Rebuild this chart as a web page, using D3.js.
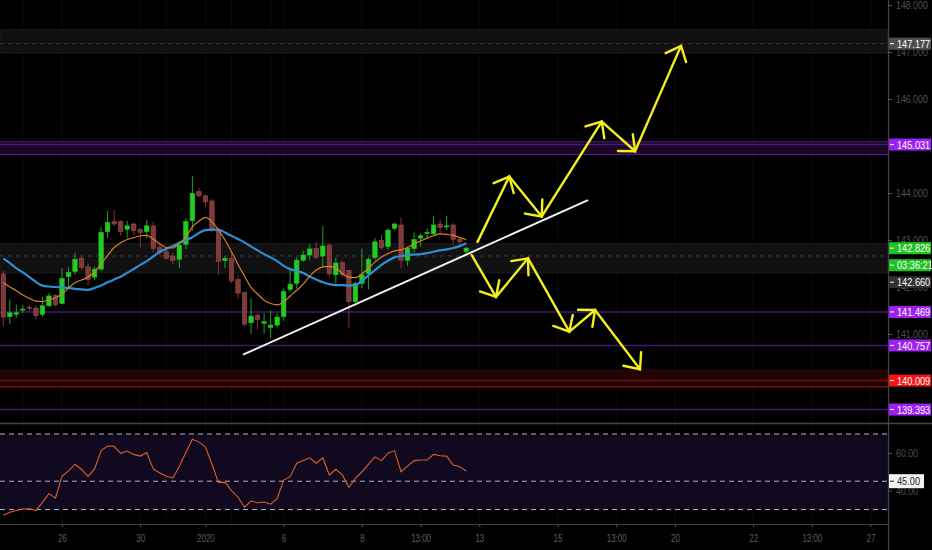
<!DOCTYPE html>
<html>
<head>
<meta charset="utf-8">
<script src="https://cdn.jsdelivr.net/npm/d3@7"></script>
<style>
html, body { margin: 0; padding: 0; background: #000; }
svg { display: block; font-family: "Liberation Sans", Arial, sans-serif; }
</style>
</head>
<body>
<svg id="chart" width="932" height="550"></svg>
<script>
// 4h candles, index 0 = first visible bar
var candleOpen  = [142.28,141.37,141.42,141.52,141.57,141.55,141.42,141.60,141.82,141.65,142.22,142.33,142.61,142.43,142.21,142.38,143.18,143.39,143.39,143.23,143.34,143.23,143.18,143.30,142.84,142.75,142.66,142.59,142.91,143.41,144.03,143.94,143.83,143.23,142.56,142.61,142.16,141.88,141.24,141.40,141.23,141.14,141.19,141.37,141.95,142.08,142.57,142.68,142.82,142.66,142.89,142.26,142.52,142.35,141.69,142.08,142.29,142.63,142.99,142.86,143.25,143.32,142.57,142.82,143.04,143.14,143.13,143.34,143.28,143.32,143.01,142.76];
var candleHigh  = [142.34,141.74,141.62,141.62,141.62,141.62,141.79,141.87,141.85,142.40,142.42,142.73,142.66,142.50,142.43,143.27,143.62,143.64,143.42,143.41,143.37,143.25,143.43,143.39,142.93,142.80,142.72,142.96,143.46,144.36,144.10,143.96,143.87,143.25,142.66,142.72,142.26,141.90,141.76,141.44,141.44,141.50,141.45,141.97,142.38,142.63,142.77,142.91,142.96,143.30,142.93,142.63,142.56,142.36,142.11,142.82,142.64,143.04,143.11,143.25,143.37,143.48,142.86,143.16,143.14,143.25,143.51,143.43,143.51,143.36,143.04,142.86];
var candleLow   = [141.17,141.21,141.34,141.45,141.47,141.31,141.37,141.58,141.58,141.64,141.97,142.26,142.36,142.04,142.15,142.36,143.04,143.30,143.09,143.04,143.11,142.84,143.04,142.75,142.68,142.57,142.49,142.40,142.80,143.20,143.91,143.70,143.18,142.26,142.40,142.09,141.76,141.17,141.00,141.10,141.01,140.91,141.14,141.28,141.90,141.97,142.54,142.56,142.60,142.43,142.22,142.07,142.21,141.12,141.65,141.97,141.95,142.57,142.79,142.79,143.21,142.40,142.45,142.72,142.86,143.04,143.11,143.13,143.21,142.89,142.89,142.70];
var candleClose = [141.36,141.45,141.45,141.53,141.56,141.39,141.60,141.81,141.62,142.18,142.31,142.59,142.42,142.16,142.38,143.16,143.37,143.34,143.18,143.30,143.20,143.16,143.30,142.82,142.73,142.61,142.56,142.89,143.39,143.99,143.94,143.81,143.21,142.54,142.61,142.13,141.87,141.21,141.38,141.31,141.26,141.19,141.36,141.90,142.06,142.57,142.68,142.81,142.63,142.87,142.28,142.51,142.26,141.69,142.08,142.26,142.59,142.96,142.84,143.21,143.34,142.57,142.82,143.01,143.09,143.16,143.32,143.27,143.30,143.01,142.96,142.826];

// moving averages
var maFast = [142.09,142.00,141.92,141.83,141.76,141.70,141.69,141.73,141.77,141.85,141.98,142.09,142.15,142.21,142.32,142.49,142.67,142.84,142.94,143.01,143.05,143.09,143.10,143.02,142.92,142.84,142.83,142.93,143.06,143.28,143.40,143.48,143.39,143.21,143.00,142.75,142.48,142.23,141.99,141.85,141.72,141.65,141.62,141.68,141.81,141.93,142.06,142.23,142.36,142.43,142.44,142.40,142.29,142.21,142.20,142.28,142.40,142.53,142.64,142.71,142.77,142.79,142.84,142.92,142.98,143.04,143.09,143.13,143.12,143.10,143.05,143.01];
var maSlow = [142.61,142.51,142.40,142.31,142.21,142.11,142.03,142.01,142.00,141.99,141.98,141.96,141.95,141.94,141.98,142.03,142.10,142.16,142.22,142.30,142.38,142.47,142.55,142.65,142.75,142.81,142.87,142.94,143.00,143.06,143.15,143.21,143.22,143.22,143.16,143.09,143.02,142.95,142.86,142.78,142.70,142.63,142.55,142.45,142.38,142.34,142.30,142.22,142.16,142.10,142.06,142.04,142.04,142.03,142.04,142.13,142.25,142.36,142.47,142.56,142.63,142.66,142.68,142.69,142.70,142.72,142.75,142.78,142.80,142.83,142.87,142.93];

// RSI pane
var rsiValues = [27.0,28.5,29.5,30.3,30.4,29.4,33.8,38.4,36.0,47.6,50.5,54.0,51.2,47.5,51.5,61.2,63.6,63.5,59.8,61.0,59.2,58.3,60.2,51.5,49.3,47.6,46.7,52.9,60.2,67.2,65.7,63.2,54.0,44.3,44.5,40.0,36.5,31.2,34.5,33.6,34.0,32.8,35.7,45.6,47.4,54.5,55.9,57.4,54.5,57.4,48.3,51.3,48.3,41.8,46.5,50.0,53.9,57.9,55.9,59.8,61.2,50.0,53.0,55.9,56.2,56.2,59.2,58.5,58.3,53.6,52.7,50.4];
var rsiBands = [70, 45, 30];
var rsiTicks = [60, 40];
var rsiMark = 45.00;

// time axis
var timeTickIndex  = [9, 21, 31, 43, 55, 64, 73, 85, 94, 103, 115, 124, 133];
var timeTickLabels = ['26', '30', '2020', '6', '8', '13:00', '13', '15', '13:00', '20', '22', '13:00', '27'];
var gridIndex = [3, 9, 25, 31, 35, 41];

// price axis (145 and 140 sit fully under their level tags)
var priceTicks = [148, 147, 146, 144, 143, 142, 141];

// drawn levels and zones
var grayZones   = [[147.47, 146.98], [142.92, 142.30]];
var purpleZone  = [145.09, 144.82];
var redZone     = [140.25, 139.88];
var dashedLevels = [147.177, 142.660];
var purpleLevels = [145.031, 141.469, 140.757, 139.393];
var redLevels    = [140.009, 139.88];

// annotations
var trendLine = [[36.76, 140.56], [89.68, 143.85]];
var upPath    = [[72.73, 142.96], [77.60, 144.35], [82.58, 143.50], [91.78, 145.52], [96.89, 144.89], [103.94, 147.13]];
var downPath  = [[71.84, 142.68], [75.57, 141.79], [80.48, 142.61], [86.81, 141.05], [90.75, 141.51], [97.65, 140.25]];

// right-hand price labels
var labelValues = [147.177, 145.031, 142.826, 142.826, 142.660, 141.469, 140.757, 140.009, 139.393];
var labelTexts  = ['147.177', '145.031', '142.826', '03:36:21', '142.660', '141.469', '140.757', '140.009', '139.393'];
var labelKinds  = ['gray', 'purple', 'green', 'green', 'dark', 'purple', 'purple', 'red', 'purple'];

(function () {
    var W = 932, H = 550;
    var axisX = 888, paneBottom = 423, rsiBottom = 524;

    var svg = d3.select('#chart');

    var x = d3.scaleLinear().domain([0, 133]).range([3.3, 870.5]);
    var y = d3.scaleLinear().domain([139, 148]).range([428, 5]);
    var rsiY = d3.scaleLinear().domain([30, 70]).range([509.5, 434]);

    var labelColor = { gray: '#4e4e4e', purple: '#9f1ff2', green: '#1fc31f', dark: '#2f2f2f', red: '#f51414' };

    // the chart uses a narrow face: squeeze text with a horizontal scale
    function narrow(sel, f) {
        sel.each(function () {
            var t = d3.select(this);
            var x0 = +t.attr('x') || 0;
            t.attr('x', x0 / f).attr('transform', 'scale(' + f + ',1)');
        });
    }

    svg.append('rect').attr('width', W).attr('height', H).attr('fill', '#000');

    svg.append('defs').append('clipPath').attr('id', 'mainClip')
        .append('rect').attr('x', 0).attr('y', 0).attr('width', axisX).attr('height', paneBottom);

    // faint vertical grid
    svg.append('g').selectAll('line')
        .data(gridIndex.concat(timeTickIndex))
        .enter().append('line')
            .attr('x1', function (d) { return x(d); }).attr('x2', function (d) { return x(d); })
            .attr('y1', 0).attr('y2', rsiBottom)
            .attr('stroke', '#0b0b0b').attr('stroke-width', 1);

    var main = svg.append('g').attr('clip-path', 'url(#mainClip)');

    // zones
    main.selectAll('.gzone').data(grayZones).enter().append('rect')
        .attr('x', 0).attr('width', axisX)
        .attr('y', function (d) { return y(d[0]); })
        .attr('height', function (d) { return y(d[1]) - y(d[0]); })
        .attr('fill', '#111').attr('stroke', '#1d1d1d').attr('stroke-width', 1);

    main.append('rect').attr('x', 0).attr('width', axisX)
        .attr('y', y(purpleZone[0])).attr('height', y(purpleZone[1]) - y(purpleZone[0]))
        .attr('fill', '#1a0724');
    main.selectAll('.pedge').data(purpleZone).enter().append('line')
        .attr('x1', 0).attr('x2', axisX)
        .attr('y1', function (d) { return y(d); }).attr('y2', function (d) { return y(d); })
        .attr('stroke', '#55197a').attr('stroke-width', 1.2);

    main.append('rect').attr('x', 0).attr('width', axisX)
        .attr('y', y(redZone[0])).attr('height', y(redZone[1]) - y(redZone[0]))
        .attr('fill', '#220404');

    main.selectAll('.dlev').data(dashedLevels).enter().append('line')
        .attr('x1', 0).attr('x2', axisX)
        .attr('y1', function (d) { return y(d); }).attr('y2', function (d) { return y(d); })
        .attr('stroke', '#3a3a3a').attr('stroke-dasharray', '4,4');

    main.selectAll('.plev').data(purpleLevels).enter().append('line')
        .attr('x1', 0).attr('x2', axisX)
        .attr('y1', function (d) { return y(d); }).attr('y2', function (d) { return y(d); })
        .attr('stroke', '#44177a').attr('stroke-width', 1.5);

    main.selectAll('.rlev').data(redLevels).enter().append('line')
        .attr('x1', 0).attr('x2', axisX)
        .attr('y1', function (d) { return y(d); }).attr('y2', function (d) { return y(d); })
        .attr('stroke', '#700c0c').attr('stroke-width', 1.5);

    // candles
    var bodyW = (x(1) - x(0)) * 0.68;
    var candles = main.selectAll('.candle')
        .data(d3.range(candleOpen.length))
        .enter().append('g')
            .attr('class', 'candle');

    candles.append('line')
        .attr('x1', function (i) { return x(i); }).attr('x2', function (i) { return x(i); })
        .attr('y1', function (i) { return y(candleHigh[i]); })
        .attr('y2', function (i) { return y(candleLow[i]); })
        .attr('stroke', function (i) { return candleClose[i] >= candleOpen[i] ? '#1fa51f' : '#8e3232'; })
        .attr('stroke-width', 1);

    candles.append('rect')
        .attr('x', function (i) { return x(i) - bodyW / 2; })
        .attr('width', bodyW)
        .attr('y', function (i) { return y(Math.max(candleOpen[i], candleClose[i])); })
        .attr('height', function (i) { return Math.max(1, Math.abs(y(candleOpen[i]) - y(candleClose[i]))); })
        .attr('fill', function (i) { return candleClose[i] >= candleOpen[i] ? '#22cc22' : '#7e3a3a'; })
        .attr('stroke', function (i) { return candleClose[i] >= candleOpen[i] ? '#22cc22' : '#9a4646'; })
        .attr('stroke-width', 0.6);

    // moving averages
    var maLine = d3.line()
        .x(function (d, i) { return x(i); })
        .y(function (d) { return y(d); })
        .curve(d3.curveMonotoneX);

    main.append('path').datum(maSlow)
        .attr('d', maLine).attr('fill', 'none')
        .attr('stroke', '#2e8fd6').attr('stroke-width', 2.2);
    main.append('path').datum(maFast)
        .attr('d', maLine).attr('fill', 'none')
        .attr('stroke', '#d8812c').attr('stroke-width', 1.2);

    // trend line
    main.append('line')
        .attr('x1', x(trendLine[0][0])).attr('y1', y(trendLine[0][1]))
        .attr('x2', x(trendLine[1][0])).attr('y2', y(trendLine[1][1]))
        .attr('stroke', '#f2f2f2').attr('stroke-width', 2);

    // yellow scenario arrows: every leg ends with an open head
    function drawArrows(points) {
        var pts = points.map(function (p) { return [x(p[0]), y(p[1])]; });
        var g = main.append('g')
            .attr('stroke', '#f4f019').attr('stroke-width', 2.4)
            .attr('fill', 'none').attr('stroke-linecap', 'round');
        g.append('path').attr('d', d3.line()(pts));
        for (var k = 1; k < pts.length; k++) {
            var a = pts[k - 1], b = pts[k];
            var back = Math.atan2(a[1] - b[1], a[0] - b[0]);
            var len = 17, spread = 41 * Math.PI / 180;
            var p1 = [b[0] + len * Math.cos(back + spread), b[1] + len * Math.sin(back + spread)];
            var p2 = [b[0] + len * Math.cos(back - spread), b[1] + len * Math.sin(back - spread)];
            g.append('path').attr('d', d3.line()([p1, b, p2]));
        }
    }
    drawArrows(upPath);
    drawArrows(downPath);

    // RSI pane
    svg.append('rect')
        .attr('x', 0).attr('width', axisX)
        .attr('y', rsiY(rsiBands[0])).attr('height', rsiY(rsiBands[2]) - rsiY(rsiBands[0]))
        .attr('fill', '#110920');

    svg.selectAll('.rsiband').data(rsiBands).enter().append('line')
        .attr('x1', 0).attr('x2', axisX)
        .attr('y1', function (d) { return rsiY(d); }).attr('y2', function (d) { return rsiY(d); })
        .attr('stroke', '#b4b0c0').attr('stroke-dasharray', '5,4').attr('stroke-width', 1);

    svg.append('path').datum(rsiValues)
        .attr('d', d3.line().x(function (d, i) { return x(i); }).y(function (d) { return rsiY(d); }))
        .attr('fill', 'none').attr('stroke', '#dc6128').attr('stroke-width', 1.1);

    // pane separators and axis line
    svg.append('line').attr('x1', 0).attr('x2', W).attr('y1', paneBottom + 0.5).attr('y2', paneBottom + 0.5)
        .attr('stroke', '#444').attr('stroke-width', 1.5);
    svg.append('line').attr('x1', 0).attr('x2', axisX).attr('y1', rsiBottom + 0.5).attr('y2', rsiBottom + 0.5)
        .attr('stroke', '#444').attr('stroke-width', 1.2);
    svg.append('line').attr('x1', axisX + 0.5).attr('x2', axisX + 0.5).attr('y1', 0).attr('y2', H)
        .attr('stroke', '#444').attr('stroke-width', 1.2);

    // time axis
    var xAxis = svg.append('g')
        .attr('transform', 'translate(0,' + rsiBottom + ')')
        .call(d3.axisBottom(x).tickValues(timeTickIndex)
            .tickFormat(function (d, i) { return timeTickLabels[i]; })
            .tickSize(3).tickPadding(7));
    xAxis.select('.domain').remove();
    xAxis.selectAll('line').attr('stroke', '#555');
    xAxis.selectAll('text').attr('fill', '#5e5e5e').attr('font-size', 11)
        .attr('font-family', '"Liberation Sans", sans-serif');
    narrow(xAxis.selectAll('text'), 0.72);

    // price axis ticks
    var yAxis = svg.append('g')
        .attr('transform', 'translate(' + axisX + ',0)')
        .call(d3.axisRight(y).tickValues(priceTicks).tickFormat(d3.format('.3f')).tickSize(4).tickPadding(4));
    yAxis.select('.domain').remove();
    yAxis.selectAll('line').attr('stroke', '#555');
    yAxis.selectAll('text').attr('fill', '#505050').attr('font-size', 11)
        .attr('font-family', '"Liberation Sans", sans-serif');
    narrow(yAxis.selectAll('text'), 0.8);

    // RSI axis ticks
    var rAxis = svg.append('g')
        .attr('transform', 'translate(' + axisX + ',0)')
        .call(d3.axisRight(rsiY).tickValues(rsiTicks).tickFormat(d3.format('.2f')).tickSize(4).tickPadding(4));
    rAxis.select('.domain').remove();
    rAxis.selectAll('line').attr('stroke', '#555');
    rAxis.selectAll('text').attr('fill', '#505050').attr('font-size', 11)
        .attr('font-family', '"Liberation Sans", sans-serif');
    narrow(rAxis.selectAll('text'), 0.8);

    // price labels, stacked so they do not overlap
    var boxH = 12, gap = 17;
    var placed = labelValues.map(function (v, i) { return { i: i, cy: y(v) }; });
    placed.sort(function (a, b) { return a.cy - b.cy; });
    for (var k = 1; k < placed.length; k++) {
        if (placed[k].cy < placed[k - 1].cy + gap) placed[k].cy = placed[k - 1].cy + gap;
    }

    var labels = svg.append('g').selectAll('g')
        .data(placed)
        .enter().append('g')
            .attr('transform', function (d) { return 'translate(' + (axisX + 1) + ',' + d.cy + ')'; });

    labels.append('rect')
        .attr('x', 0).attr('y', -boxH / 2).attr('width', W - axisX - 2).attr('height', boxH)
        .attr('fill', function (d) { return labelColor[labelKinds[d.i]]; });
    labels.append('line')
        .attr('x1', 1).attr('x2', 5).attr('y1', 0).attr('y2', 0)
        .attr('stroke', '#fff').attr('stroke-width', 1);
    var labelText = labels.append('text')
        .attr('x', 8).attr('y', 0).attr('dy', '0.36em')
        .attr('fill', '#fff').attr('font-size', 11.5)
        .text(function (d) { return labelTexts[d.i]; });
    narrow(labelText, 0.8);

    // RSI value tag
    var rt = svg.append('g').attr('transform', 'translate(' + (axisX + 1) + ',' + rsiY(rsiMark) + ')');
    rt.append('rect').attr('x', 0).attr('y', -7).attr('width', 35).attr('height', 14)
        .attr('fill', '#f2f2f2');
    rt.append('line').attr('x1', 1).attr('x2', 5).attr('y1', 0).attr('y2', 0).attr('stroke', '#222');
    var rtText = rt.append('text').attr('x', 8).attr('y', 0).attr('dy', '0.36em')
        .attr('fill', '#222').attr('font-size', 11.5)
        .text(d3.format('.2f')(rsiMark));
    narrow(rtText, 0.8);
}());
</script>
</body>
</html>
